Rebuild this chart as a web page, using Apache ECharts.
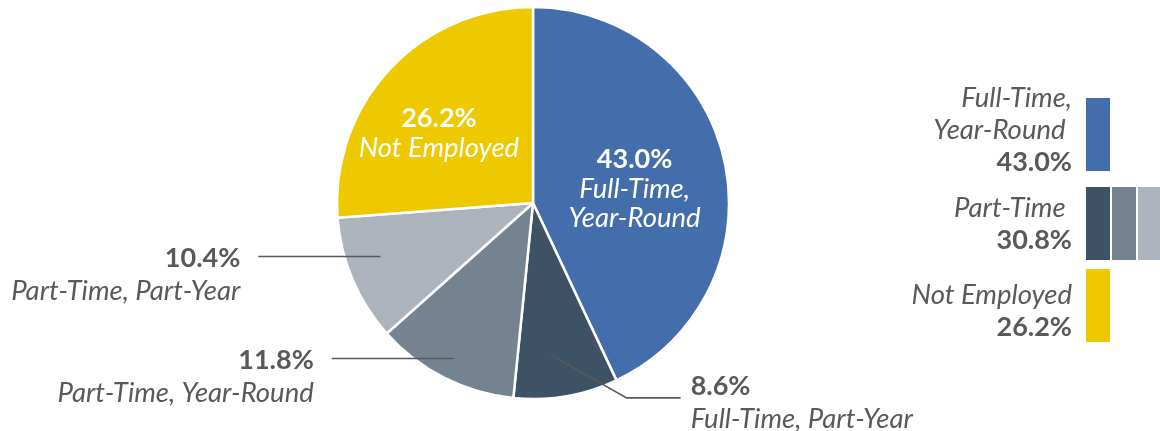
<!DOCTYPE html>
<html>
<head>
<meta charset="utf-8">
<script src="https://cdn.jsdelivr.net/npm/echarts@6/dist/echarts.min.js"></script>
<style>
  html, body { margin: 0; padding: 0; background: #ffffff; }
  #chart { width: 1160px; height: 431px; }
</style>
</head>
<body>
<div id="chart"></div>
<script>
// Work status shares (percent of total)
const categories = ['Full-Time, Year-Round', 'Full-Time, Part-Year', 'Part-Time, Year-Round', 'Part-Time, Part-Year', 'Not Employed'];
const sliceLabels = ['Full-Time,\nYear-Round', 'Full-Time, Part-Year', 'Part-Time, Year-Round', 'Part-Time, Part-Year', 'Not Employed'];
const shares = [43.0, 8.6, 11.8, 10.4, 26.2];
const sliceColors = ['#446DAB', '#3E5266', '#758391', '#ADB3BC', '#EFC900'];

// Grouped key on the right: label lines and the slices each group sums
const keyLabels = [['Full-Time,', 'Year-Round '], ['Part-Time '], ['Not Employed']];
const keyMembers = [[0], [1, 2, 3], [4]];

const FONT = 'Lato, "Noto Sans", sans-serif';
const TEXT_DARK = '#595959';
const PCT_SIZE = 27, NAME_SIZE = 27.5;
const PIE_CX = 533, PIE_CY = 203, PIE_R = 196;

const total = shares.reduce((a, b) => a + b, 0);
const fmt = v => v.toFixed(1) + '%';

// slice start / end angles, clockwise from 12 o'clock, degrees
const sliceAngles = [];
{
  let acc = 0;
  shares.forEach(v => {
    const a0 = acc / total * 360;
    acc += v;
    sliceAngles.push([a0, acc / total * 360]);
  });
}
function polar(angleDeg, r) {
  const t = angleDeg * Math.PI / 180;
  return [PIE_CX + r * Math.sin(t), PIE_CY - r * Math.cos(t)];
}

// callout styling for the small slices: where the leader starts inside the slice,
// and how the leader and text sit relative to it
const callouts = {
  1: { frac: 0.6, rad: 0.78, kind: 'elbowRight' },
  2: { frac: 0.5, rad: 0.89, kind: 'left' },
  3: { frac: 0.6, rad: 0.825, kind: 'left' }
};

// leader polyline and text anchor for a callout slice
function calloutGeometry(i) {
  const c = callouts[i];
  const [a0, a1] = sliceAngles[i];
  const anchor = polar(a0 + (a1 - a0) * c.frac, PIE_R * c.rad);
  if (c.kind === 'left') {
    const end = [anchor[0] - 122, anchor[1]];
    return { points: [anchor, end], x: end[0] - 18, y: anchor[1] - 14, align: 'right' };
  }
  const elbow = [anchor[0] + 76, anchor[1] + 43];
  const end = [elbow[0] + 54, elbow[1]];
  return { points: [anchor, elbow, end], x: end[0] + 10, y: elbow[1] - 28, align: 'left' };
}

// series labels take "color"; graphic text takes "fill"
function richStyles(color, nameLH, key) {
  key = key || 'color';
  return {
    pct: { fontFamily: FONT, fontWeight: 'bold', fontSize: PCT_SIZE, lineHeight: 32, [key]: color },
    nm: { fontFamily: FONT, fontStyle: 'italic', fontSize: NAME_SIZE, lineHeight: nameLH, [key]: color }
  };
}

const data = shares.map((v, i) => {
  const inside = !(i in callouts);
  const nameLines = sliceLabels[i].split('\n').map(s => '{nm|' + s + '}').join('\n');
  return {
    name: categories[i],
    value: v,
    itemStyle: { color: sliceColors[i] },
    label: inside ? {
      position: 'inside',
      formatter: '{pct|' + fmt(v) + '}\n' + nameLines,
      rich: richStyles('#ffffff', 29),
      offset: i === 0 ? [3, 7] : [-20, -2]
    } : {
      position: 'outside',
      formatter: '{pct|' + fmt(v) + '}\n' + nameLines,
      rich: richStyles(TEXT_DARK, 34)
    },
    labelLine: { show: false }
  };
});

const chart = echarts.init(document.getElementById('chart'), null, { renderer: 'canvas' });

const graphics = [];

// leader lines for the outside labels, drawn over the slices
Object.keys(callouts).forEach(k => {
  const g = calloutGeometry(+k);
  graphics.push({
    type: 'polyline',
    z: 100,
    shape: { points: g.points },
    style: { stroke: '#595959', lineWidth: 1.6, fill: null }
  });
});

// key on the right, built from the same shares
const keyTextTop = [82, 192, 279];
const keySwatchTop = [98, 187, 269];
const SW_W = 24, SW_H = 73, SW_X = 1086, SW_PITCH = 26, KEY_TEXT_RIGHT = 1072;
keyLabels.forEach((lines, g) => {
  const sum = keyMembers[g].reduce((a, idx) => a + shares[idx], 0);
  graphics.push({
    type: 'text',
    x: KEY_TEXT_RIGHT,
    y: keyTextTop[g],
    style: {
      text: lines.map(s => '{nm|' + s + '}').join('\n') + '\n{pct|' + fmt(sum) + '}',
      align: 'right',
      verticalAlign: 'top',
      fill: TEXT_DARK,
      rich: richStyles(TEXT_DARK, 32, 'fill')
    }
  });
  keyMembers[g].forEach((idx, k) => {
    graphics.push({
      type: 'rect',
      shape: { x: SW_X + k * SW_PITCH, y: keySwatchTop[g], width: SW_W, height: SW_H },
      style: { fill: sliceColors[idx] }
    });
  });
});

chart.setOption({
  animation: false,
  backgroundColor: '#ffffff',
  textStyle: { fontFamily: FONT },
  graphic: graphics,
  series: [{
    type: 'pie',
    center: [PIE_CX, PIE_CY],
    radius: [0, PIE_R],
    startAngle: 90,
    clockwise: true,
    avoidLabelOverlap: false,
    silent: true,
    itemStyle: { borderColor: '#ffffff', borderWidth: 2.5 },
    data: data,
    labelLayout: function (params) {
      const i = params.dataIndex;
      if (!(i in callouts)) return {};
      const g = calloutGeometry(i);
      return { x: g.x, y: g.y, align: g.align, verticalAlign: 'top' };
    }
  }]
});
</script>
</body>
</html>
